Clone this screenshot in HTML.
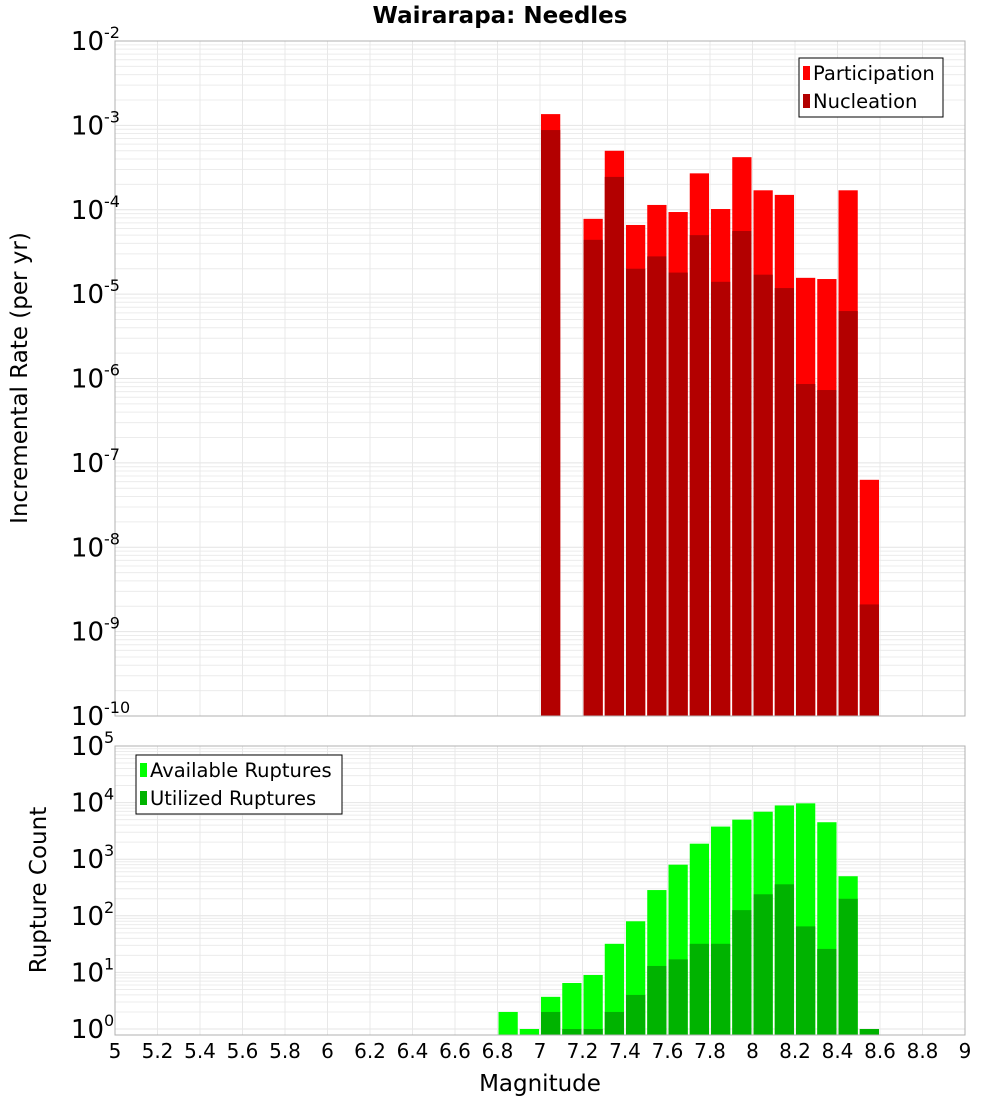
<!DOCTYPE html>
<html><head><meta charset="utf-8"><style>
body{margin:0;background:#fff;}
svg text{font-family:"DejaVu Sans","Liberation Sans",sans-serif;}
</style></head><body>
<svg id="chart" width="1000" height="1100" xmlns="http://www.w3.org/2000/svg"></svg>
<script>
const xTicks=[5,5.2,5.4,5.6,5.8,6,6.2,6.4,6.6,6.8,7,7.2,7.4,7.6,7.8,8,8.2,8.4,8.6,8.8,9];
const topBins=[7.05,7.25,7.35,7.45,7.55,7.65,7.75,7.85,7.95,8.05,8.15,8.25,8.35,8.45,8.55];
const participation=[1.36e-3,7.8e-5,5.0e-4,6.6e-5,1.14e-4,9.4e-5,2.7e-4,1.02e-4,4.2e-4,1.7e-4,1.5e-4,1.56e-5,1.51e-5,1.7e-4,6.3e-8];
const nucleation=[8.8e-4,4.4e-5,2.45e-4,2.0e-5,2.8e-5,1.8e-5,5.0e-5,1.4e-5,5.6e-5,1.7e-5,1.18e-5,8.6e-7,7.3e-7,6.3e-6,2.1e-9];
const botBins=[6.85,6.95,7.05,7.15,7.25,7.35,7.45,7.55,7.65,7.75,7.85,7.95,8.05,8.15,8.25,8.35,8.45,8.55];
const available=[2,1,3.7,6.5,9,32,80,285,800,1880,3770,5000,6900,8900,9700,4500,500,1];
const utilized=[0,0,2,1,1,2,4,13,17,32,32,126,240,360,65,26,200,1];
const topExp=[-2,-3,-4,-5,-6,-7,-8,-9,-10];
const botExp=[5,4,3,2,1,0];

const NS="http://www.w3.org/2000/svg";
const svg=document.getElementById('chart');
function el(t,a,p){const e=document.createElementNS(NS,t);for(const k in a)e.setAttribute(k,a[k]);(p||svg).appendChild(e);return e;}
const X0=115,X1=965;
const xs=v=>X0+(v-5)/4*(X1-X0);
const yTop=v=>41+(-2-Math.log10(v))*84.375;
const yBot=v=>1029+(0-Math.log10(v))*56.6;

function panel(y0,y1,ys,exps,name){
  const g=el('g',{});
  
  
  el('rect',{x:X0,y:y0,width:X1-X0,height:y1-y0,fill:'#fff'},g);
  for(let i=0;i<exps.length;i++){
    const e=exps[i];
    for(let m=1;m<10;m++){
      const y=ys(m*Math.pow(10,e));
      if(y>y0&&y<y1) el('line',{x1:X0,x2:X1,y1:y,y2:y,stroke:m==1?'#e4e4e4':'#ececec','stroke-width':1},g);
    }
  }
  xTicks.forEach(t=>{const x=xs(t);el('line',{x1:x,x2:x,y1:y0,y2:y1,stroke:'#e8e8e8'},g);});
  return g;
}
panel(41,716,yTop,topExp,'rate');
panel(746,1035,yBot,botExp,'count');

function bars(bins,vals,ys,base,color,nm){
  const g=el('g',{});
  
  
  bins.forEach((b,i)=>{
    if(!vals[i])return;
    const x=xs(b-0.05)+1,w=xs(b+0.05)-xs(b-0.05)-2;
    const y=Math.max(ys(vals[i]),0);
    const r=el('rect',{x:x,y:y,width:w,height:base-y,fill:color},g);
    
    
  });
}
bars(topBins,participation,yTop,716,'#ff0000','participation');
bars(topBins,nucleation,yTop,716,'#b30000','nucleation');
bars(botBins,available,yBot,1035,'#00ff00','available');
bars(botBins,utilized,yBot,1035,'#00b300','utilized');

el('rect',{x:X0,y:41,width:X1-X0,height:675,fill:'none',stroke:'#b0b0b0'});
el('rect',{x:X0,y:746,width:X1-X0,height:289,fill:'none',stroke:'#b0b0b0'});

function ylabels(exps,ys,nm){
  exps.forEach(e=>{
    const y=ys(Math.pow(10,e));
    const t=el('text',{x:104,y:y+9,'font-size':26,'text-anchor':'end',fill:'#000'});
    t.textContent='10';
    
    
    const s=el('text',{x:104,y:y-3,'font-size':16,fill:'#000'});
    s.textContent=String(e);
    
    
  });
}
ylabels(topExp,yTop,'rate-y');
ylabels(botExp,yBot,'count-y');

xTicks.forEach(t=>{
  const tx=el('text',{x:xs(t),y:1058,'font-size':20,'text-anchor':'middle',fill:'#000'});
  tx.textContent=String(t);
  
  
});

function txt(s,a,nm){const t=el('text',a);t.textContent=s;return t;}
txt('Wairarapa: Needles',{x:500,y:23,'font-size':23,'font-weight':'bold','text-anchor':'middle'},'chart-title');
txt('Magnitude',{x:540,y:1091,'font-size':23,'text-anchor':'middle'},'x-axis-title');
txt('Incremental Rate (per yr)',{x:0,y:0,'font-size':23,'text-anchor':'middle',transform:'translate(27,378) rotate(-90)'},'rate-y-axis-title');
txt('Rupture Count',{x:0,y:0,'font-size':23,'text-anchor':'middle',transform:'translate(46,890) rotate(-90)'},'count-y-axis-title');

function legend(x,y,w,items,nm){
  const g=el('g',{});
  
  
  el('rect',{x:x,y:y,width:w,height:59,fill:'#fff',stroke:'#000'},g);
  items.forEach((it,i)=>{
    const yy=y+15+i*28;
    el('rect',{x:x+4,y:yy-7,width:7,height:14,fill:it[1]},g);
    const t=el('text',{x:x+14,y:yy+7,'font-size':19.5},g);
    t.textContent=it[0];
    
    
  });
}
legend(799,58,144,[['Participation','#ff0000'],['Nucleation','#b30000']],'rate-legend');
legend(136,755,206,[['Available Ruptures','#00ff00'],['Utilized Ruptures','#00b300']],'count-legend');
</script>
</body></html>
